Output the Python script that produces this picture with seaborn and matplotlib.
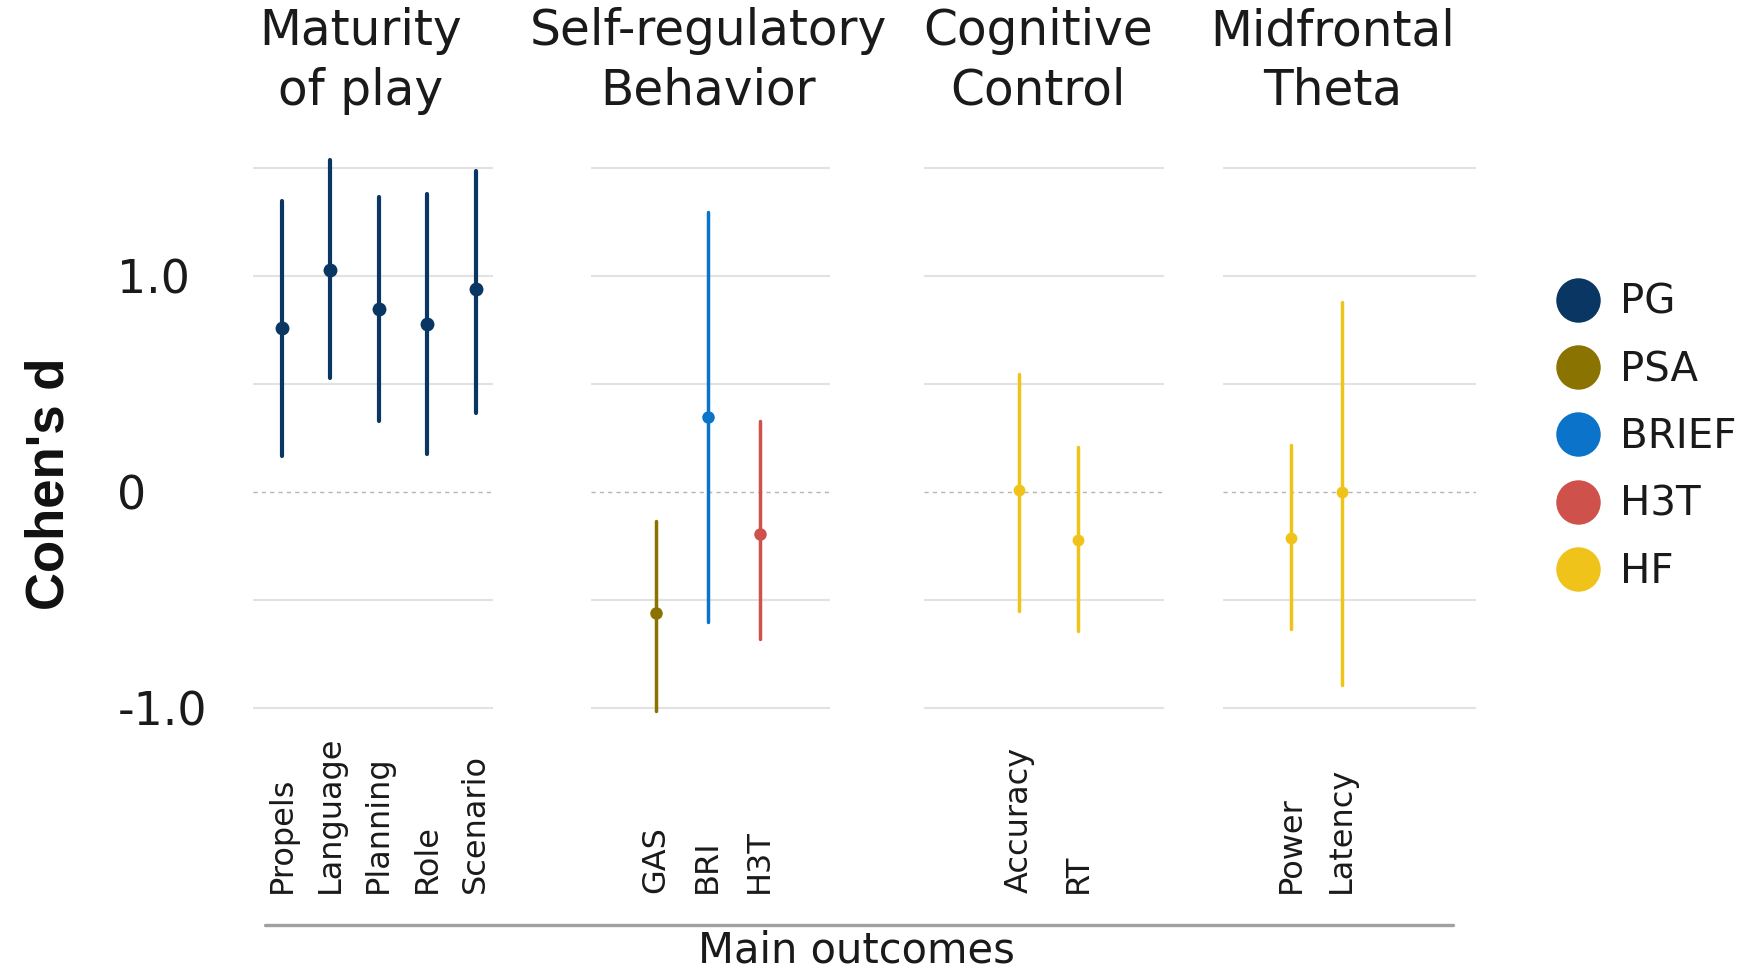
import numpy as np
import pandas as pd
import matplotlib.pyplot as plt
from matplotlib.lines import Line2D
import seaborn as sns

# effect sizes (Cohen's d) with 95% CI
domains = ["Maturity\nof play", "Self-regulatory\nBehavior", "Cognitive\nControl", "Midfrontal\nTheta"]
outcomes = ["Propels", "Language", "Planning", "Role", "Scenario",
            "GAS", "BRI", "H3T",
            "Accuracy", "RT",
            "Power", "Latency"]
domain_of = [0, 0, 0, 0, 0, 1, 1, 1, 2, 2, 3, 3]
measure = ["PG", "PG", "PG", "PG", "PG",
           "PSA", "BRIEF", "H3T",
           "HF", "HF",
           "HF", "HF"]
d_est = [0.76, 1.03, 0.85, 0.78, 0.94, -0.56, 0.35, -0.19, 0.01, -0.22, -0.21, 0.00]
ci_low = [0.17, 0.53, 0.33, 0.18, 0.37, -1.01, -0.60, -0.68, -0.55, -0.64, -0.63, -0.89]
ci_high = [1.35, 1.54, 1.37, 1.38, 1.49, -0.13, 1.30, 0.33, 0.55, 0.21, 0.22, 0.88]

legend_labels = ["PG", "PSA", "BRIEF", "H3T", "HF"]
colors = {"PG": "#0a3663", "PSA": "#8a7300", "BRIEF": "#0b73c9",
          "H3T": "#cf514b", "HF": "#f0c31a"}

# long table: low / estimate / high per outcome -> median + full range interval
rows = []
for i, o in enumerate(outcomes):
    for v in (ci_low[i], d_est[i], ci_high[i]):
        rows.append({"outcome": o, "domain": domain_of[i], "measure": measure[i], "d": v})
df = pd.DataFrame(rows)

sns.set_theme(style="white")
plt.rcParams["font.family"] = ["DejaVu Sans"]

fig = plt.figure(figsize=(17.47, 9.72), dpi=100)

# layout of the four panels (figure fractions) and x ranges
panel_left = [0.1451, 0.3382, 0.5289, 0.6999]
panel_width = [0.1371, 0.1369, 0.1374, 0.1450]
panel_xlim = [(-0.59, 4.36), (-1.25, 3.35), (-1.61, 2.46), (-1.35, 3.66)]
title_x = [0.449, 0.49, 0.475, 0.435]
line_w = [3.0, 2.5, 2.5, 2.5]
mark_s = [10, 9, 8.5, 8.5]

for k in range(4):
    ax = fig.add_axes([panel_left[k], 0.26, panel_width[k], 0.5845])
    sub = df[df["domain"] == k]
    order = [o for o, dm in zip(outcomes, domain_of) if dm == k]
    sns.pointplot(data=sub, x="outcome", y="d", hue="measure", order=order,
                  palette=colors, estimator="median", errorbar=("pi", 100),
                  linestyle="none", markersize=mark_s[k], markeredgewidth=0,
                  err_kws={"linewidth": line_w[k]}, legend=False, ax=ax)
    ax.set_xlim(*panel_xlim[k])
    ax.set_ylim(-1.05, 1.58)
    ax.set_yticks([-1.0, -0.5, 0, 0.5, 1.0, 1.5])
    if k == 0:
        ax.set_yticklabels(["-1.0", "", "0", "", "1.0", ""], fontsize=33, color="#1a1a1a")
        for t in ax.get_yticklabels():
            t.set_ha("left")
        ax.tick_params(axis="y", pad=98, length=0)
    else:
        ax.set_yticklabels([])
        ax.tick_params(axis="y", length=0)
    ax.yaxis.grid(True, color="#e2e2e2", linewidth=1.5)
    gl = ax.get_ygridlines()[2]
    gl.set_linestyle((0, (3, 3)))
    gl.set_color("#b5b5b5")
    gl.set_linewidth(1.0)
    ax.set_axisbelow(True)
    for s in ax.spines.values():
        s.set_visible(False)
    ax.set_xlabel("")
    ax.set_ylabel("")
    ax.set_xticks(range(len(order)))
    ax.set_xticklabels(order, rotation=90, fontsize=23, color="#1a1a1a",
                       rotation_mode="anchor", ha="left", va="center")
    ax.tick_params(axis="x", pad=125, length=0)
    ax.text(title_x[k], 1.159, domains[k], transform=ax.transAxes, ha="center",
            va="center", fontsize=35, linespacing=1.3, color="#1a1a1a")

fig.text(0.0286, 0.502, "Cohen's d", rotation=90, ha="center", va="center",
         fontsize=38, fontweight="bold", color="#111111",
         family=["Liberation Sans", "DejaVu Sans"])

# bottom rule and axis title
fig.add_artist(Line2D([0.1517, 0.8317], [0.0484, 0.0484], transform=fig.transFigure,
                      color="#a0a0a0", linewidth=2.4))
fig.text(0.4905, 0.022, "Main outcomes", ha="center", va="center", fontsize=30,
         color="#1a1a1a")

handles = [Line2D([0], [0], marker="o", linestyle="none", markersize=32,
                  markerfacecolor=colors[m], markeredgewidth=0) for m in legend_labels]
fig.legend(handles, legend_labels, loc="center left", bbox_to_anchor=(0.8915, 0.55),
           frameon=False, fontsize=29, handlelength=1.0, handletextpad=0.55,
           labelspacing=0.68, borderpad=0, borderaxespad=0, labelcolor="#1a1a1a")

fig.savefig("out.png", dpi=100)
